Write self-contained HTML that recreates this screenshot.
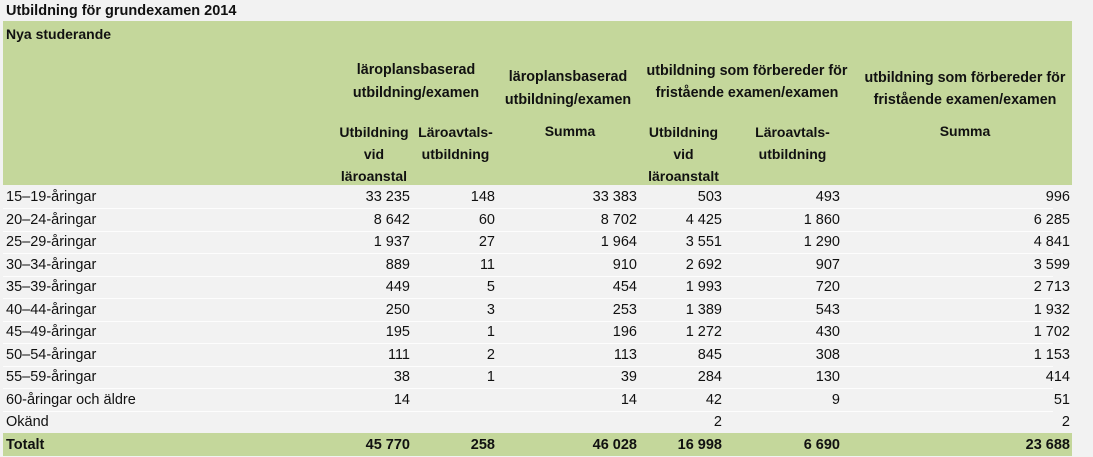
<!DOCTYPE html>
<html><head><meta charset="utf-8"><style>
body{margin:0;width:1093px;height:457px;background:#f2f2f2;font-family:"Liberation Sans",Arial,sans-serif;font-size:13.5px;color:#111;position:relative;overflow:hidden}
.a{position:absolute;white-space:nowrap;line-height:20px}
.b{font-weight:bold}
.r{text-align:right}
.c{text-align:center}
.g{position:absolute;background:#c4d79b}
.ln{position:absolute;left:3px;width:1050px;height:1px;background:#fdfdfd}
</style></head><body>
<div class="a b" style="left:6px;top:1px;font-size:14.5px">Utbildning för grundexamen 2014</div>
<div class="g" style="left:3px;top:21px;width:1069px;height:164px"></div>
<div class="g" style="left:3px;top:433px;width:1069px;height:23px"></div>
<div class="a b" style="left:6px;top:24px;font-size:14px">Nya studerande</div>

<div class="a b c" style="left:346px;width:140px;top:59px;line-height:23px;font-size:14.3px">läroplansbaserad<br>utbildning/examen</div>
<div class="a b c" style="left:493px;width:150px;top:66px;line-height:23px;font-size:14.3px">läroplansbaserad<br>utbildning/examen</div>
<div class="a b c" style="left:637px;width:220px;top:60px;line-height:22px;font-size:14.3px">utbildning som förbereder för<br>fristående examen/examen</div>
<div class="a b c" style="left:855px;width:220px;top:67px;line-height:22px;font-size:14.3px">utbildning som förbereder för<br>fristående examen/examen</div>

<div class="a b c" style="left:329px;width:90px;top:121px;line-height:22px;font-size:14px">Utbildning<br>vid<br>läroanstal</div>
<div class="a b c" style="left:408px;width:95px;top:121px;line-height:22px;font-size:14px">Läroavtals-<br>utbildning</div>
<div class="a b c" style="left:520px;width:100px;top:121px;font-size:14px">Summa</div>
<div class="a b c" style="left:636px;width:95px;top:121px;line-height:22px;font-size:14px">Utbildning<br>vid<br>läroanstalt</div>
<div class="a b c" style="left:745px;width:95px;top:121px;line-height:22px;font-size:14px">Läroavtals-<br>utbildning</div>
<div class="a b c" style="left:910px;width:110px;top:121px;font-size:14px">Summa</div>

<div class="ln" style="top:208px"></div><div class="ln" style="top:231px"></div><div class="ln" style="top:253px"></div><div class="ln" style="top:276px"></div><div class="ln" style="top:298px"></div><div class="ln" style="top:321px"></div><div class="ln" style="top:343px"></div><div class="ln" style="top:366px"></div><div class="ln" style="top:388px"></div><div class="ln" style="top:411px"></div>

<div style="position:absolute;left:0;top:186px;width:1093px;font-size:14.5px">
<style>
.row{position:relative;height:22.5px;line-height:22.5px}
.row span{position:absolute;white-space:nowrap}
.l{left:6px}
.c1{right:683px}.c2{right:598px}.c3{right:456px}.c4{right:371px}.c5{right:253px}.c6{right:23px}
</style>
<div class="row"><span class="l">15–19-åringar</span><span class="c1">33 235</span><span class="c2">148</span><span class="c3">33 383</span><span class="c4">503</span><span class="c5">493</span><span class="c6">996</span></div>
<div class="row"><span class="l">20–24-åringar</span><span class="c1">8 642</span><span class="c2">60</span><span class="c3">8 702</span><span class="c4">4 425</span><span class="c5">1 860</span><span class="c6">6 285</span></div>
<div class="row"><span class="l">25–29-åringar</span><span class="c1">1 937</span><span class="c2">27</span><span class="c3">1 964</span><span class="c4">3 551</span><span class="c5">1 290</span><span class="c6">4 841</span></div>
<div class="row"><span class="l">30–34-åringar</span><span class="c1">889</span><span class="c2">11</span><span class="c3">910</span><span class="c4">2 692</span><span class="c5">907</span><span class="c6">3 599</span></div>
<div class="row"><span class="l">35–39-åringar</span><span class="c1">449</span><span class="c2">5</span><span class="c3">454</span><span class="c4">1 993</span><span class="c5">720</span><span class="c6">2 713</span></div>
<div class="row"><span class="l">40–44-åringar</span><span class="c1">250</span><span class="c2">3</span><span class="c3">253</span><span class="c4">1 389</span><span class="c5">543</span><span class="c6">1 932</span></div>
<div class="row"><span class="l">45–49-åringar</span><span class="c1">195</span><span class="c2">1</span><span class="c3">196</span><span class="c4">1 272</span><span class="c5">430</span><span class="c6">1 702</span></div>
<div class="row"><span class="l">50–54-åringar</span><span class="c1">111</span><span class="c2">2</span><span class="c3">113</span><span class="c4">845</span><span class="c5">308</span><span class="c6">1 153</span></div>
<div class="row"><span class="l">55–59-åringar</span><span class="c1">38</span><span class="c2">1</span><span class="c3">39</span><span class="c4">284</span><span class="c5">130</span><span class="c6">414</span></div>
<div class="row"><span class="l">60-åringar och äldre</span><span class="c1">14</span><span class="c3">14</span><span class="c4">42</span><span class="c5">9</span><span class="c6">51</span></div>
<div class="row"><span class="l">Okänd</span><span class="c4">2</span><span class="c6">2</span></div>
<div class="row" style="font-weight:bold"><span class="l">Totalt</span><span class="c1">45 770</span><span class="c2">258</span><span class="c3">46 028</span><span class="c4">16 998</span><span class="c5">6 690</span><span class="c6">23 688</span></div>
</div>
</body></html>
